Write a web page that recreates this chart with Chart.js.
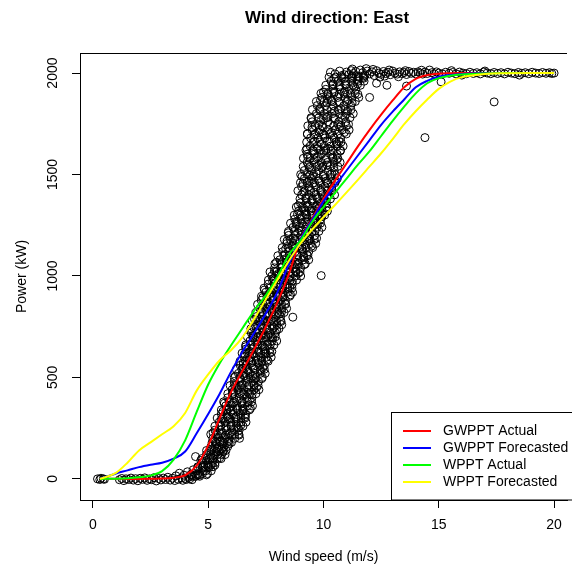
<!DOCTYPE html>
<html>
<head>
<meta charset="utf-8">
<script src="https://cdn.jsdelivr.net/npm/chart.js@4.4.1/dist/chart.umd.min.js"></script>
<style>
  html, body { margin: 0; padding: 0; background: #fff; }
  canvas { display: block; }
</style>
</head>
<body>
<canvas id="windChart" width="572" height="571"></canvas>
<script>
// axis ticks
const xTicks = [0, 5, 10, 15, 20];
const yTicks = [0, 500, 1000, 1500, 2000];

// fitted power curves, sampled along wind speed (m/s) -> power (kW)
const curveSpeed = [0.3, 1, 1.5, 2, 2.5, 3, 3.5, 4, 4.5, 5, 5.5, 6, 6.5, 7, 7.5, 8, 8.5, 9, 9.5, 10,
  10.5, 11, 11.5, 12, 12.5, 13, 13.5, 14, 14.5, 15, 15.5, 16, 17, 18, 19, 20];
const gwpptActual = [0, 1, 0, 0, 1, 2, 6, 18, 65, 165, 300, 430, 535, 640, 750, 870, 1010, 1180, 1280, 1380,
  1470, 1555, 1640, 1720, 1795, 1865, 1930, 1972, 1990, 1997, 1999, 2000, 2000, 2000, 2000, 2000];
const gwpptForecast = [0, 27, 42, 58, 70, 80, 100, 135, 225, 320, 420, 530, 630, 720, 815, 920, 1060, 1180, 1275, 1368,
  1445, 1520, 1595, 1670, 1745, 1810, 1870, 1930, 1962, 1982, 1991, 1996, 1999, 2000, 2000, 2000];
const wpptActual = [0, 1, 3, 8, 16, 38, 95, 190, 330, 465, 570, 660, 745, 830, 905, 995, 1105, 1175, 1265, 1340,
  1410, 1480, 1550, 1615, 1690, 1765, 1835, 1900, 1950, 1975, 1987, 1993, 1998, 2000, 2000, 2000];
const wpptForecast = [0, 30, 80, 140, 180, 220, 260, 325, 435, 515, 585, 635, 700, 790, 885, 980, 1075, 1160, 1228, 1290,
  1350, 1412, 1475, 1540, 1605, 1675, 1748, 1812, 1870, 1922, 1958, 1980, 1996, 1999, 2000, 2000];

// observations below cut-in [wind speed, power]
const idlePoints = [
  [0.2,0],[0.3,-3],[0.35,3],[0.45,0],[0.5,-2],
  [1.15,-4],[1.25,2],[1.35,-8],[1.45,0],[1.55,-3],[1.65,4],[1.75,-6],[1.85,1],[1.95,-9],[2.05,3],
  [2.15,-2],[2.25,5],[2.35,-7],[2.45,0],[2.55,-4],[2.65,6],[2.75,-10],[2.85,2],[2.95,-5],[3.05,4],
  [3.15,-3],[3.25,8],[3.35,-6],[3.45,3],[3.55,-8],[3.6,15],[3.7,-2],[3.75,28],[3.85,5],[3.9,-7],
  [3.95,18],[4.05,-3],[4.1,35],[4.15,8],[4.25,22],[4.3,-4],[4.35,45],[4.4,12],[4.45,110],[4.2,0],[4.0,2]
];

// ramp observations: [power, [wind speeds observed at that power]]
const rampRows = [
  [20,[4.27,4.54,4.64,4.92]],[40,[4.5,4.77,4.89,5.13]],[60,[4.55,4.8,4.99,5.21]],[80,[4.73,5.0,5.18,5.3]],
  [100,[4.72,4.89,5.07,5.21,5.38,5.56]],[120,[4.92,5.1,5.27,5.42,5.58,5.73]],[140,[4.93,5.1,5.25,5.49,5.65,5.77]],
  [160,[5.12,5.29,5.47,5.69,5.85]],[180,[5.17,5.34,5.52,5.66,5.83,6.01]],[200,[5.2,5.45,5.7,5.92,6.15,6.36]],
  [220,[5.11,5.35,5.57,5.92,6.15,6.32]],[240,[5.29,5.54,5.79,6.12,6.34]],[260,[5.29,5.53,5.79,5.99,6.24,6.51]],
  [280,[5.48,5.73,5.98,6.2,6.43,6.64]],[300,[5.39,5.63,5.85,6.2,6.43,6.6]],[320,[5.57,5.82,6.07,6.4,6.62]],
  [340,[5.57,5.81,6.07,6.27,6.52,6.79]],[360,[5.76,6.01,6.26,6.48,6.71,6.92]],[380,[5.67,5.91,6.13,6.48,6.71,6.88]],
  [400,[5.85,6.1,6.35,6.68,6.9]],[420,[5.85,6.09,6.35,6.55,6.8,7.07]],[440,[6.04,6.29,6.54,6.76,6.99,7.2]],
  [460,[5.95,6.19,6.41,6.76,6.99,7.16]],[480,[6.13,6.38,6.63,6.96,7.18]],[500,[6.13,6.37,6.63,6.83,7.08,7.35]],
  [520,[6.31,6.56,6.81,7.03,7.26,7.47]],[540,[6.22,6.46,6.68,7.03,7.26,7.43]],[560,[6.39,6.64,6.89,7.22,7.44]],
  [580,[6.38,6.62,6.88,7.08,7.33,7.6]],[600,[6.57,6.82,7.07,7.29,7.52,7.73]],[620,[6.47,6.71,6.93,7.28,7.51,7.68]],
  [640,[6.64,6.89,7.14,7.47,7.69]],[660,[6.63,6.87,7.13,7.33,7.58,7.85]],[680,[6.81,7.06,7.31,7.53,7.76,7.97]],
  [700,[6.7,6.94,7.16,7.51,7.74,7.91]],[720,[6.87,7.12,7.37,7.7,7.92]],[740,[6.85,7.09,7.35,7.55,7.8,8.07]],
  [760,[7.03,7.28,7.53,7.75,7.98,8.19]],[780,[6.92,7.16,7.38,7.73,7.96,8.13]],[800,[7.09,7.34,7.59,7.92,8.14]],
  [820,[7.07,7.31,7.57,7.77,8.02,8.29]],[840,[7.24,7.49,7.74,7.96,8.19,8.4]],[860,[7.14,7.38,7.6,7.95,8.18,8.35]],
  [880,[7.3,7.55,7.8,8.13,8.35]],[900,[7.31,7.55,7.81,8.01,8.26,8.53]],[920,[7.5,7.75,8.0,8.22,8.45,8.66]],
  [940,[7.42,7.66,7.88,8.23,8.46,8.63]],[960,[7.6,7.85,8.1,8.43,8.65]],[980,[7.61,7.85,8.11,8.31,8.56,8.83]],
  [1000,[7.76,8.03,8.3,8.54,8.79,9.01]],[1020,[7.68,7.94,8.17,8.55,8.8,8.98]],[1040,[7.88,8.15,8.42,8.77,9.01]],
  [1060,[7.89,8.15,8.43,8.65,8.92,9.21]],[1080,[8.11,8.38,8.65,8.89,9.14,9.36]],[1100,[8.02,8.28,8.51,8.89,9.14,9.32]],
  [1120,[8.23,8.5,8.77,9.12,9.36]],[1140,[8.21,8.47,8.75,8.97,9.24,9.53]],[1160,[8.41,8.68,8.95,9.19,9.44,9.66]],
  [1180,[8.3,8.56,8.79,9.17,9.42,9.6]],[1200,[8.49,8.76,9.03,9.38,9.62]],[1220,[8.48,8.74,9.02,9.24,9.51,9.8]],
  [1240,[8.68,8.95,9.22,9.46,9.71,9.93]],[1260,[8.57,8.83,9.06,9.44,9.69,9.87]],[1280,[8.75,9.02,9.29,9.64,9.88]],
  [1300,[8.73,8.99,9.27,9.49,9.76,10.05]],[1320,[8.92,9.19,9.46,9.7,9.95,10.17]],[1340,[8.82,9.08,9.31,9.69,9.94,10.12]],
  [1360,[9.0,9.27,9.54,9.89,10.13]],[1380,[8.98,9.24,9.52,9.74,10.01,10.3]],[1400,[9.05,9.36,9.67,9.94,10.22,10.48]],
  [1420,[8.89,9.18,9.45,9.88,10.17,10.38]],[1440,[9.05,9.36,9.67,10.07,10.35]],[1460,[9.0,9.29,9.61,9.86,10.17,10.5]],
  [1480,[9.17,9.48,9.79,10.06,10.34,10.6]],[1500,[9.01,9.3,9.57,10.0,10.29,10.5]],[1520,[9.17,9.48,9.79,10.19,10.47]],
  [1540,[9.12,9.41,9.73,9.98,10.29,10.62]],[1560,[9.29,9.6,9.91,10.18,10.46,10.72]],[1580,[9.13,9.42,9.69,10.12,10.41,10.62]],
  [1600,[9.29,9.6,9.91,10.31,10.59]],[1620,[9.24,9.53,9.85,10.1,10.41,10.74]],[1640,[9.42,9.73,10.04,10.31,10.59,10.85]],
  [1660,[9.27,9.56,9.83,10.26,10.55,10.76]],[1680,[9.44,9.75,10.06,10.46,10.74]],[1700,[9.3,9.64,9.99,10.27,10.62,10.99]],
  [1720,[9.51,9.85,10.2,10.5,10.82,11.11]],[1740,[9.32,9.65,9.95,10.44,10.75,10.99]],[1760,[9.51,9.86,10.2,10.66,10.96]],
  [1780,[9.46,9.8,10.15,10.43,10.78,11.15]],[1800,[9.69,10.03,10.38,10.68,11.0,11.29]],[1820,[9.52,9.85,10.15,10.64,10.95,11.19]],
  [1840,[9.73,10.08,10.42,10.88,11.18]],[1860,[9.69,10.03,10.38,10.66,11.01,11.38]],[1880,[9.93,10.27,10.62,10.92,11.24,11.53]],
  [1900,[9.89,10.18,10.45,10.88,11.17,11.38]],[1920,[10.1,10.41,10.72,11.12,11.4]],[1940,[10.1,10.39,10.71,10.96,11.27,11.6]],
  [1960,[10.33,10.64,10.95,11.22,11.5,11.76]],[1980,[10.24,10.53,10.8,11.23,11.52,11.73]]
];
// second, interleaved set of ramp observations
const rampRowsB = [
  [13,[4.28,4.48,4.63]],[26,[4.54,4.75,4.97]],[56,[4.56,4.74,5.03]],[68,[4.79,4.98,5.12,5.29]],[91,[4.68,4.94,5.19]],
  [104,[5.13,5.5]],[134,[5.05,5.36,5.65]],[147,[5.14,5.39,5.59]],[173,[5.36,5.63,5.91]],[186,[5.29,5.53,5.89]],
  [216,[5.41,5.76,6.02,6.34]],[228,[5.21,5.59,5.96]],[251,[5.76,6.3]],[264,[5.55,6.0,6.41]],[294,[5.57,5.94,6.23]],
  [307,[5.82,6.21,6.61]],[333,[5.64,5.98,6.51]],[347,[5.9,6.25,6.51,6.83]],[373,[5.7,6.08,6.45]],[386,[6.25,6.79]],
  [416,[6.04,6.49,6.9]],[427,[6.06,6.43,6.72]],[451,[6.31,6.7,7.1]],[464,[6.13,6.47,7.0]],[494,[6.39,6.74,7.0,7.32]],
  [507,[6.18,6.56,6.93]],[533,[6.73,7.27]],[547,[6.51,6.96,7.37]],[573,[6.52,6.89,7.18]],[586,[6.77,7.16,7.56]],
  [616,[6.58,6.92,7.45]],[628,[6.83,7.18,7.44,7.76]],[651,[6.62,7.0,7.37]],[664,[7.16,7.7]],[694,[6.94,7.39,7.8]],
  [707,[6.94,7.31,7.6]],[733,[7.18,7.57,7.97]],[746,[6.98,7.32,7.85]],[776,[7.23,7.58,7.84,8.16]],[787,[7.01,7.39,7.76]],
  [813,[7.55,8.09]],[824,[7.32,7.77,8.18]],[851,[7.32,7.69,7.98]],[864,[7.56,7.95,8.35]],[894,[7.37,7.71,8.24]],
  [907,[7.64,7.99,8.25,8.57]],[931,[7.44,7.82,8.19]],[944,[8.0,8.54]],[974,[7.79,8.24,8.65]],[987,[7.82,8.19,8.48]],
  [1013,[8.06,8.48,8.91]],[1024,[7.87,8.24,8.81]],[1056,[8.16,8.54,8.82,9.17]],[1068,[7.96,8.37,8.77]],[1091,[8.56,9.14]],
  [1104,[8.35,8.83,9.28]],[1134,[8.36,8.76,9.08]],[1147,[8.63,9.05,9.48]],[1173,[8.42,8.79,9.36]],[1186,[8.69,9.07,9.35,9.7]],
  [1213,[8.47,8.88,9.28]],[1224,[9.06,9.64]],[1254,[8.82,9.3,9.75]],[1267,[8.82,9.22,9.54]],[1293,[9.08,9.5,9.93]],
  [1304,[8.87,9.24,9.81]],[1334,[9.14,9.52,9.8,10.15]],[1347,[8.91,9.32,9.72]],[1373,[9.49,10.07]],[1386,[9.23,9.71,10.16]],
  [1413,[9.14,9.59,9.95]],[1426,[9.39,9.87,10.36]],[1456,[9.11,9.53,10.18]],[1468,[9.37,9.8,10.12,10.52]],[1491,[9.07,9.54,9.99]],
  [1504,[9.69,10.36]],[1534,[9.38,9.93,10.44]],[1547,[9.35,9.8,10.16]],[1573,[9.6,10.08,10.57]],[1586,[9.32,9.74,10.39]],
  [1616,[9.58,10.01,10.33,10.73]],[1627,[9.28,9.75,10.2]],[1651,[9.91,10.58]],[1664,[9.61,10.16,10.67]],[1694,[9.59,10.04,10.4]],
  [1707,[9.81,10.35,10.9]],[1733,[9.5,9.97,10.7]],[1746,[9.79,10.28,10.64,11.08]],[1776,[9.47,10.0,10.51]],[1787,[10.18,10.93]],
  [1813,[9.86,10.48,11.04]],[1824,[9.84,10.35,10.75]],[1853,[10.15,10.69,11.24]],[1866,[9.87,10.34,11.07]],[1896,[10.2,10.69,11.05,11.49]],
  [1907,[10.0,10.47,10.92]],[1933,[10.67,11.34]],[1946,[10.42,10.97,11.48]],[1973,[10.45,10.9,11.26]],[1987,[10.77,11.25,11.74]]
];

// observations at rated power [wind speed, power]
const ratedPoints = [
  [10.3,2004],[10.5,1996],[10.7,2010],[10.9,1992],
  [11.0,2005],[11.1,1992],[11.2,2012],[11.3,1998],[11.4,2008],[11.5,1985],[11.6,2015],[11.7,2002],[11.8,1990],[11.9,2010],
  [12.0,1996],[12.1,2006],[12.2,1988],[12.3,2012],[12.4,2000],[12.5,1994],[12.6,2008],[12.7,1998],[12.8,2004],[12.9,1992],
  [13.0,2010],[13.1,2000],[13.2,1995],[13.3,2006],[13.4,1998],[13.5,2003],[13.6,1993],[13.7,2008],[13.8,1999],[13.9,2004],
  [14.0,1996],[14.1,2006],[14.2,2000],[14.3,1995],[14.4,2005],[14.5,1998],[14.6,2015],[14.7,2002],[14.8,1996],[14.9,2006],
  [15.0,2000],[15.15,1996],[15.3,2004],[15.45,1999],[15.6,2003],[15.75,1996],[15.9,2005],[16.05,2000],[16.2,1997],[16.35,2004],
  [16.5,1998],[16.65,2002],[16.8,1996],[16.95,2005],[17.1,2000],[17.25,1997],[17.4,2003],[17.55,1998],[17.7,2002],[17.85,1996],
  [18.0,2004],[18.15,2000],[18.3,1997],[18.45,2003],[18.6,1999],[18.75,2002],[18.9,1997],[19.05,2004],[19.2,2000],[19.35,1998],
  [19.5,2003],[19.65,1999],[19.8,2002],[19.9,1998],[20.0,2000],
  [11.25,2020],[11.75,1975],[12.15,2018],[12.45,1980],[12.85,2015],[13.25,1982],[11.45,1968],[11.85,2022],[12.65,1985],
  [13.55,2012],[14.25,2014],[15.55,2012],[16.0,1990],[17.0,2010],[18.5,1990]
];
const outlierPoints = [
  [9.3,1700],[10.17,1870],[14.4,1682],[17.4,1858],[9.9,1002],[8.67,797],[6.52,566],[13.6,1936],[15.1,1957],
  [12.75,1940],[12.3,1950],[12.0,1880],[9.4,1496]
];

const FONT = '"Liberation Sans", Arial, Helvetica, sans-serif';

const toXY = pts => pts.map(p => ({ x: p[0], y: p[1] }));
const rowsToXY = rows => rows.flatMap(r => r[1].map(x => ({ x: x, y: r[0] })));
const curve = vals => curveSpeed.map((x, i) => ({ x: x, y: vals[i] }));

function curveSet(label, vals, color, order) {
    return {
        label: label,
        data: curve(vals),
        showLine: true,
        borderColor: color,
        backgroundColor: color,
        borderWidth: 2,
        pointRadius: 0,
        cubicInterpolationMode: "monotone",
        fill: false,
        order: order
    };
}

// title, top frame line and legend box (R style)
const rDecor = {
    id: "rDecor",
    afterDraw(chart) {
        const c = chart.ctx;
        const area = chart.chartArea;
        c.save();
        c.strokeStyle = "#000";
        c.lineWidth = 1;
        c.beginPath();
        c.moveTo(area.left, Math.round(area.top) + 0.5);
        c.lineTo(area.right, Math.round(area.top) + 0.5);
        c.stroke();

        c.fillStyle = "#000";
        c.font = "bold 17px " + FONT;
        c.textAlign = "center";
        c.textBaseline = "middle";
        c.fillText("Wind direction: East", 327, 18);

        // legend
        const lx = 391.5, ly = 412.5;
        c.fillStyle = "#fff";
        c.fillRect(lx, ly, 200, area.bottom - ly);
        c.strokeRect(lx, ly, 200, area.bottom - ly);
        c.font = "14px " + FONT;
        c.textAlign = "left";
        const sets = chart.data.datasets.filter(d => d.showLine);
        sets.forEach((d, i) => {
            const y = 431 + i * 17;
            c.strokeStyle = d.borderColor;
            c.lineWidth = 2;
            c.beginPath();
            c.moveTo(403, y);
            c.lineTo(431, y);
            c.stroke();
            c.fillStyle = "#000";
            c.fillText(d.label, 443, y);
        });
        c.restore();
    }
};

const observed = toXY(idlePoints).concat(rowsToXY(rampRows), rowsToXY(rampRowsB), toXY(ratedPoints), toXY(outlierPoints));

new Chart(document.getElementById("windChart"), {
    type: "scatter",
    data: {
        datasets: [
            {
                label: "Observed",
                data: observed,
                pointStyle: "circle",
                pointRadius: 4,
                pointBorderWidth: 1,
                pointBorderColor: "#000",
                pointBackgroundColor: "rgba(0,0,0,0)",
                order: 10
            },
            curveSet("GWPPT Actual", gwpptActual, "#ff0000", 4),
            curveSet("GWPPT Forecasted", gwpptForecast, "#0000ff", 3),
            curveSet("WPPT Actual", wpptActual, "#00ff00", 2),
            curveSet("WPPT Forecasted", wpptForecast, "#ffff00", 1)
        ]
    },
    options: {
        responsive: false,
        animation: false,
        devicePixelRatio: 1,
        events: [],
        layout: { padding: { top: 53, left: 0, right: 0, bottom: 0 } },
        plugins: {
            legend: { display: false },
            tooltip: { enabled: false }
        },
        scales: {
            x: {
                type: "linear",
                min: -0.56,
                max: 20.56,
                afterBuildTicks: s => { s.ticks = xTicks.map(v => ({ value: v })); },
                afterFit: s => { s.height = 71; },
                grid: { drawOnChartArea: false, drawTicks: true, tickLength: 8, color: "#000", lineWidth: 1 },
                border: { display: true, color: "#000", width: 1 },
                ticks: {
                    color: "#000", padding: 9, maxRotation: 0,
                    font: { family: FONT, size: 14 },
                    callback: v => String(v)
                },
                title: {
                    display: true, text: "Wind speed (m/s)", color: "#000",
                    font: { family: FONT, size: 14 },
                    padding: { top: 0, bottom: 5 }
                }
            },
            y: {
                type: "linear",
                min: -104,
                max: 2099,
                afterBuildTicks: s => { s.ticks = yTicks.map(v => ({ value: v })); },
                afterFit: s => { s.width = 80; },
                grid: { drawOnChartArea: false, drawTicks: true, tickLength: 8, color: "#000", lineWidth: 1 },
                border: { display: true, color: "#000", width: 1 },
                ticks: {
                    color: "#000", padding: 3, minRotation: 90, maxRotation: 90, crossAlign: "center",
                    font: { family: FONT, size: 14 },
                    callback: v => String(v)
                },
                title: {
                    display: true, text: "Power (kW)", color: "#000",
                    font: { family: FONT, size: 14 },
                    padding: { top: 14, bottom: 0 }
                }
            }
        }
    },
    plugins: [rDecor]
});
</script>
</body>
</html>
